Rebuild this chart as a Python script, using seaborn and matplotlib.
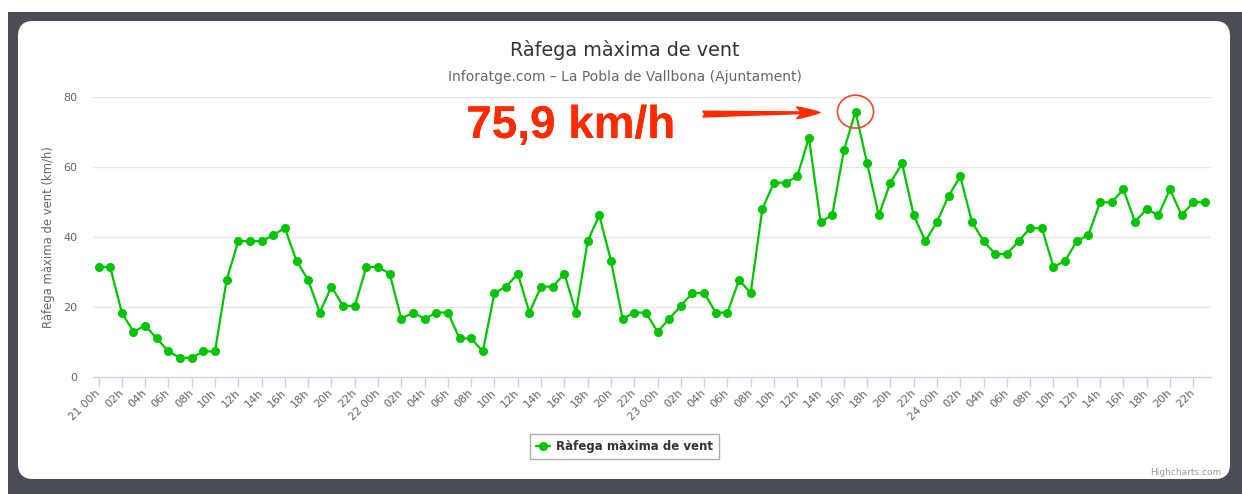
import numpy as np
import pandas as pd
import matplotlib
matplotlib.use("Agg")
import matplotlib.pyplot as plt
import matplotlib.patheffects as pe
from matplotlib.patches import FancyBboxPatch, Rectangle, Ellipse
import seaborn as sns

# ---------------- data ----------------
day21 = [31.5, 31.5, 18.5, 13.0, 14.8, 11.1, 7.4, 5.6, 5.6, 7.4, 7.4, 27.8,
         38.9, 38.9, 38.9, 40.7, 42.6, 33.3, 27.8, 18.5, 25.9, 20.4, 20.4, 31.5]
day22 = [31.5, 29.6, 16.7, 18.5, 16.7, 18.5, 18.5, 11.1, 11.1, 7.4, 24.1, 25.9,
         29.6, 18.5, 25.9, 25.9, 29.6, 18.5, 38.9, 46.3, 33.3, 16.7, 18.5, 18.5]
day23 = [13.0, 16.7, 20.4, 24.1, 24.1, 18.5, 18.5, 27.8, 24.1, 48.1, 55.6, 55.6,
         57.4, 68.5, 44.4, 46.3, 64.8, 75.9, 61.1, 46.3, 55.6, 61.1, 46.3, 38.9]
day24 = [44.4, 51.9, 57.4, 44.4, 38.9, 35.2, 35.2, 38.9, 42.6, 42.6, 31.5, 33.3,
         38.9, 40.7, 50.0, 50.0, 53.7, 44.4, 48.1, 46.3, 53.7, 46.3, 50.0, 50.0]
gust = day21 + day22 + day23 + day24

tick_labels = [
    "21 00h", "02h", "04h", "06h", "08h", "10h", "12h", "14h", "16h", "18h", "20h", "22h",
    "22 00h", "02h", "04h", "06h", "08h", "10h", "12h", "14h", "16h", "18h", "20h", "22h",
    "23 00h", "02h", "04h", "06h", "08h", "10h", "12h", "14h", "16h", "18h", "20h", "22h",
    "24 00h", "02h", "04h", "06h", "08h", "10h", "12h", "14h", "16h", "18h", "20h", "22h",
]
y_ticks = [0, 20, 40, 60, 80]
series_name = "Ràfega màxima de vent"
title = "Ràfega màxima de vent"
subtitle = "Inforatge.com – La Pobla de Vallbona (Ajuntament)"
y_label = "Ràfega màxima de vent (km/h)"
peak_label = "75,9 km/h"

df = pd.DataFrame({"hour": np.arange(len(gust)), "gust": gust})

# ---------------- figure ----------------
sns.set_style("white")
plt.rcParams["font.family"] = ["DejaVu Sans"]

W, H = 1242, 494
fig = plt.figure(figsize=(W / 100, H / 100), dpi=100)
fig.patch.set_facecolor("white")

def px(x, y):
    """pixel (top-left origin) -> inches for dpi_scale_trans"""
    return x / 100, (H - y) / 100

dark = "#4a4d55"
x0, y0 = px(8, H)
fig.add_artist(Rectangle((x0, y0), (W - 8) / 100, (H - 12) / 100,
                         transform=fig.dpi_scale_trans, facecolor=dark,
                         edgecolor="none", zorder=-3))
cx, cy = px(18, 479)
fig.add_artist(FancyBboxPatch((cx, cy), (1230 - 18) / 100, (479 - 21) / 100,
                              boxstyle="round,pad=0,rounding_size=0.15",
                              transform=fig.dpi_scale_trans, facecolor="white",
                              edgecolor="none", zorder=-2))

ax = fig.add_axes([92.7 / W, (H - 377.3) / H, 1118 / W, 280 / H])
ax.set_facecolor("none")

green = "#00c400"
sns.lineplot(data=df, x="hour", y="gust", ax=ax, color=green, lw=1.6,
             marker="o", markersize=6.5, markeredgewidth=0, label=series_name,
             zorder=3)

ax.set_xlim(-0.5, len(gust) - 0.5)
ax.set_ylim(0, 80)
ax.set_yticks(y_ticks)
ax.set_xticks(np.arange(0, len(gust), 2))
ax.set_xticklabels(tick_labels, rotation=45, ha="right", rotation_mode="anchor",
                   fontsize=8, color="#666666")
ax.tick_params(axis="x", length=7, width=1, color="#ccd6eb", pad=3, bottom=True)
ax.tick_params(axis="y", length=0, pad=11, labelsize=8, labelcolor="#666666")
for lab in ax.get_xticklabels():
    lab.set_verticalalignment("center")

ax.grid(axis="y", color="#e6e6e6", lw=1)
ax.grid(axis="x", visible=False)
for s in ["top", "right", "left"]:
    ax.spines[s].set_visible(False)
ax.spines["bottom"].set_color("#ccd6eb")
ax.spines["bottom"].set_linewidth(1)
ax.set_xlabel("")
ax.set_ylabel(y_label, fontsize=8.4, color="#666666")
ax.yaxis.set_label_coords(-0.0335, 0.5)

# titles
fig.text(625 / W, 1 - 50 / H, title, ha="center", va="center", fontsize=13.8,
         color="#333333")
fig.text(625 / W, 1 - 77 / H, subtitle, ha="center", va="center", fontsize=10,
         color="#666666")
fig.text(1221 / W, 1 - 472 / H, "Highcharts.com", ha="right", va="center",
         fontsize=6.5, color="#999999")

# peak annotation
peak_i = int(np.argmax(gust))
peak_v = gust[peak_i]
red = "#ff2a00"
ax.add_patch(Ellipse((peak_i, peak_v), width=3.1, height=9.4, facecolor="none",
                     edgecolor="#f04530", lw=1.2, zorder=4, clip_on=False))
ax.text(40.57, 68.4, peak_label, ha="center", va="baseline", fontsize=33,
        fontweight="bold", family="Liberation Sans", color=red, zorder=5,
        path_effects=[pe.SimplePatchShadow(offset=(1, -1.5), shadow_rgbFace="#bbbbbb", alpha=0.6),
                      pe.withStroke(linewidth=5, foreground="white"),
                      pe.Normal()])
ax.annotate("", xy=(peak_i - 3.05, 75.66), xytext=(51.9, 75.2),
            arrowprops=dict(arrowstyle="fancy,head_length=1.2,head_width=0.6,tail_width=0.3",
                            color=red, mutation_scale=14, shrinkA=0, shrinkB=0,
                            connectionstyle="arc3,rad=0"),
            zorder=5, annotation_clip=False)

# legend
leg = ax.legend(loc="center", bbox_to_anchor=(624.5 / W, 1 - 446.5 / H),
                bbox_transform=fig.transFigure, frameon=True, fancybox=False,
                prop={"weight": "bold", "size": 8.5}, handlelength=1.2,
                handletextpad=0.5, borderpad=0.5, edgecolor="#999999")
leg.get_frame().set_linewidth(1)
for t in leg.get_texts():
    t.set_color("#333333")

fig.savefig("out.png", dpi=100)
